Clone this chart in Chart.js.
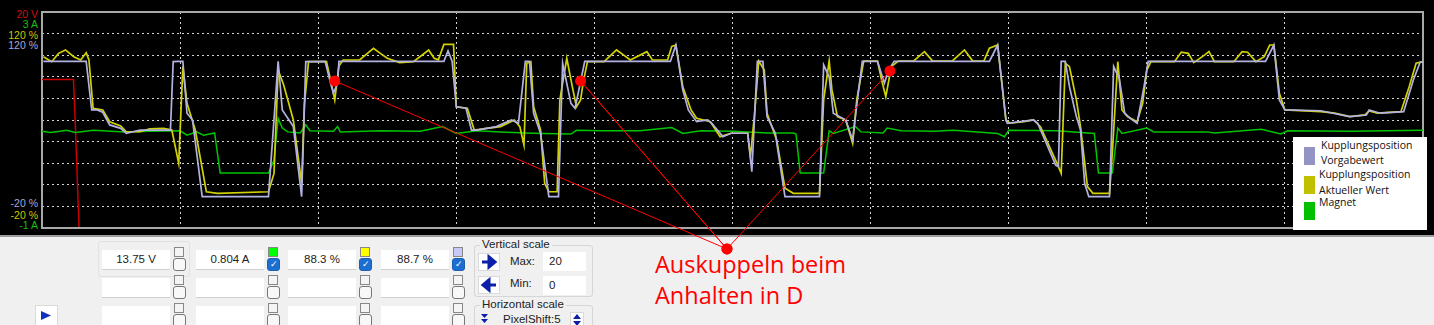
<!DOCTYPE html>
<html>
<head>
<meta charset="utf-8">
<script src="https://cdn.jsdelivr.net/npm/chart.js@4.4.0/dist/chart.umd.min.js"></script>
<style>
  body { margin: 0; width: 1434px; height: 325px; overflow: hidden; background: #f0f0f0; position: relative; font-family: "Liberation Sans", Arial, sans-serif; }
  #scope { position: absolute; left: 0; top: 0; width: 1434px; height: 235px; background: #000; border-bottom: 2px solid #9a9a9a; }
  #chart { position: absolute; left: 0; top: 0; z-index: 5; pointer-events: none; }
  .axl { position: absolute; right: 1396px; font: 10.5px "Liberation Sans", Arial, sans-serif; line-height: 10px; white-space: nowrap; }
  #legend { position: absolute; left: 1293px; top: 137px; width: 134px; height: 93px; background: #fff; z-index: 6; font: 10.5px "Open Sans", sans-serif; color: #111; }
  #legend .sw { position: absolute; left: 11px; width: 11px; height: 18px; }
  #legend .tx { position: absolute; white-space: nowrap; line-height: 12px; }
  .box { position: absolute; width: 68px; height: 19px; background: #fff; border-bottom: 1px solid #d0d0d0; font-size: 11.5px; line-height: 19px; text-align: center; color: #222; }
  .sq { position: absolute; width: 8px; height: 8px; border: 1px solid #888; background: #f4f4f4; }
  .cb { position: absolute; width: 11px; height: 11px; border: 1px solid #777; border-radius: 3px; background: #f8f8f8; }
  .cb.on { background: #1c6fd0; border-color: #1c5fb0; color: #fff; font-size: 9px; line-height: 11px; text-align: center; }
  .pl { position: absolute; font-size: 11.5px; color: #222; white-space: nowrap; }
  .grp { position: absolute; border: 1px solid #d6d6d6; border-radius: 3px; }
  .inp { position: absolute; width: 43px; height: 19px; background: #fff; font-size: 11.5px; line-height: 19px; padding-left: 6px; box-sizing: border-box; color: #222; }
  .btn { position: absolute; width: 22px; height: 18px; background: #fff; border: 1px solid #dadada; box-sizing: border-box; }
  #note { position: absolute; left: 655px; top: 249px; z-index: 4; color: #ff0000; font: 23.5px "Open Sans", sans-serif; line-height: 30.7px; white-space: nowrap; }
</style>
</head>
<body>
<div id="scope"></div>
<canvas id="chart" width="1434" height="325"></canvas>

<div class="axl" style="top:9px;color:#d01010">20 V</div>
<div class="axl" style="top:19px;color:#10c010">3 A</div>
<div class="axl" style="top:30px;color:#c8c800">120 %</div>
<div class="axl" style="top:40px;color:#a8a8d8">120 %</div>
<div class="axl" style="top:198px;color:#a8a8d8">-20 %</div>
<div class="axl" style="top:210px;color:#c8c800">-20 %</div>
<div class="axl" style="top:220px;color:#10c010">-1 A</div>

<div id="legend">
  <div class="sw" style="top:10px;background:#9494c4"></div>
  <div class="tx" style="left:28px;top:2px">Kupplungsposition</div>
  <div class="tx" style="left:28px;top:17px">Vorgabewert</div>
  <div class="sw" style="top:39px;background:#c0c000"></div>
  <div class="tx" style="left:26px;top:31px">Kupplungsposition</div>
  <div class="tx" style="left:26px;top:47px">Aktueller Wert</div>
  <div class="sw" style="top:65px;background:#00c000"></div>
  <div class="tx" style="left:26px;top:59px">Magnet</div>
</div>

<div id="panel"></div>

<div class="grp" style="left:474px;top:245px;width:117px;height:50px"></div>
<div class="pl" style="left:480px;top:238px;background:#f0f0f0;padding:0 2px">Vertical scale</div>
<div class="btn" style="left:478px;top:253px">
  <svg width="20" height="16"><path d="M3 8 H13 M10 3 L16 8 L10 13 Z" stroke="#0b1fa8" stroke-width="3" fill="#0b1fa8"/></svg>
</div>
<div class="pl" style="left:510px;top:255px">Max:</div>
<div class="inp" style="left:543px;top:252px">20</div>
<div class="btn" style="left:478px;top:276px">
  <svg width="20" height="16"><path d="M17 8 H7 M10 3 L4 8 L10 13 Z" stroke="#0b1fa8" stroke-width="3" fill="#0b1fa8"/></svg>
</div>
<div class="pl" style="left:510px;top:277px">Min:</div>
<div class="inp" style="left:543px;top:276px">0</div>

<div class="grp" style="left:474px;top:305px;width:117px;height:30px"></div>
<div class="pl" style="left:480px;top:298px;background:#f0f0f0;padding:0 2px">Horizontal scale</div>
<svg style="position:absolute;left:480px;top:313px" width="9" height="12"><path d="M1 1 H8 L4.5 5 Z M1 6 H8 L4.5 10 Z" fill="#0b1fa8"/></svg>
<div class="pl" style="left:503px;top:313px">PixelShift:5</div>
<div class="btn" style="left:570px;top:312px;width:14px;height:16px">
  <svg width="12" height="14"><path d="M2 6 H10 L6 1 Z M2 8 H10 L6 13 Z" fill="#0b1fa8"/></svg>
</div>

<div class="btn" style="left:35px;top:305px;width:23px;height:21px">
  <svg width="21" height="19"><path d="M5 5 L15 9.5 L5 14 Z" fill="#1030c0"/></svg>
</div>

<div id="note">Auskuppeln beim<br>Anhalten in D</div>

<script>
// Zeitachse: 0..100 (10 Einheiten pro Rasterteilung)
const timeTicks = [0, 10, 20, 30, 40, 50, 60, 70, 80, 90, 100];
const percentTicks = [-20, -6, 8, 22, 36, 50, 64, 78, 92, 106, 120];

// Kupplungsposition Vorgabewert [t, %]
const vorgabe = [
  [0.1, 88], [3.2, 88], [3.6, 56.5], [4.0, 56.5], [4.4, 55], [4.9, 46.8], [5.7, 44.6], [6.1, 41.4],
  [7.1, 43.5], [9.3, 43.5], [9.5, 87.8], [9.9, 88], [10.2, 88], [10.5, 54.4], [10.9, 50], [11.6, 0.3],
  [16.4, 0.3], [17.1, 88], [17.4, 56.5], [18.2, 45.7], [18.8, 0.3], [19.1, 87.8], [20.5, 88], [20.9, 73.8],
  [21.1, 67.3], [21.4, 73.8], [21.5, 88], [29.1, 88], [29.4, 94.9], [29.7, 88], [30.0, 58.6], [30.7, 57.6],
  [31.1, 43.5], [31.5, 43.5], [32.9, 45.7], [34.0, 50], [34.5, 47.9], [35.0, 88], [35.3, 88], [35.6, 54.4],
  [36.1, 41.4], [36.7, 0.3], [37.4, 0.3], [37.7, 86.8], [38.3, 60.8], [38.6, 57.6], [39.3, 88], [45.5, 88],
  [45.9, 98.6], [46.4, 69.5], [46.8, 56.5], [47.4, 48.9], [48.2, 50], [48.5, 47.9], [49.3, 39.2], [49.9, 41.4],
  [51.1, 41.4], [51.4, 16.5], [51.8, 88], [52.2, 88], [52.5, 52.2], [53.1, 41.4], [53.8, 0.3], [56.3, 0.3],
  [56.6, 85.7], [57.0, 78], [57.3, 54.4], [58.2, 50], [58.7, 37], [59.0, 60], [59.4, 88], [60.5, 88],
  [61.0, 73.8], [61.3, 82.4], [61.7, 88], [68.6, 88], [69.2, 98.6], [69.8, 50], [69.9, 47.9], [71.8, 50],
  [72.1, 47.9], [73.4, 20.8], [73.6, 19.8], [73.8, 88], [74.1, 88], [74.4, 71.6], [74.9, 52.2], [75.2, 43.5],
  [75.5, 9], [75.8, 0.3], [77.3, 0.3], [77.6, 84.6], [78.0, 77], [78.4, 54.4], [78.8, 51], [79.3, 47.9],
  [79.8, 71.6], [80.1, 88], [88.6, 88], [89.2, 98.6], [89.6, 63], [90.0, 56.5], [92.6, 56], [94.7, 52.2],
  [95.9, 53.2], [96.1, 56.5], [96.9, 54.4], [98.6, 55.4], [99.3, 75.9], [99.8, 87.6], [100, 87.6]
];

// Kupplungsposition Aktueller Wert [t, %]
const aktuell = [
  [0.1, 91], [0.7, 87.8], [1.2, 93.2], [1.7, 95.4], [2.3, 91], [2.8, 88.9], [3.2, 93.6], [3.4, 88.9],
  [3.7, 57.6], [4.4, 56.5], [4.9, 48.9], [5.7, 46.1], [6.1, 42.4], [7.1, 42.4], [7.8, 44.2], [8.8, 44.6],
  [9.4, 43.5], [9.9, 21.9], [10.2, 84.6], [10.5, 60.8], [11.1, 43.5], [11.9, 3.5], [12.7, 2.5], [16.4, 3.5],
  [16.8, 15.4], [17.1, 82.4], [17.5, 72.7], [18.2, 50], [18.8, 9], [19.0, 60], [19.3, 87.8], [20.6, 87.8],
  [21.0, 71.6], [21.2, 63], [21.5, 85], [21.8, 88.9], [23.0, 88.9], [24.0, 96.5], [24.5, 93.2], [25.0, 90],
  [25.9, 87.2], [26.9, 87.8], [28.0, 95.4], [28.4, 90], [28.7, 89], [29.1, 99], [29.8, 99], [30.0, 58.6],
  [30.8, 57.6], [31.3, 43.5], [32.2, 44.6], [33.2, 45.7], [34.2, 50], [34.6, 45.7], [34.9, 33.8], [35.1, 86.8],
  [35.4, 87.8], [35.6, 58.6], [36.1, 43.5], [36.4, 9], [36.7, 3.5], [37.3, 3.5], [37.5, 63], [38.0, 90],
  [38.4, 71.6], [38.7, 58.6], [39.0, 63], [39.2, 75], [39.5, 87.8], [40.7, 87.8], [41.6, 95.4], [42.1, 92.2],
  [42.6, 88.9], [43.8, 94.3], [44.2, 88.9], [45.3, 88.9], [45.6, 97.7], [45.9, 98.6], [46.4, 71.6], [47.0, 56.5],
  [47.4, 51.1], [48.4, 48.9], [49.1, 39.2], [49.9, 41.4], [51.1, 41.4], [51.3, 26.3], [51.6, 54.4], [51.9, 88.2],
  [52.3, 82.4], [52.5, 54.4], [53.2, 37], [53.8, 5.8], [54.4, 2.5], [56.3, 2.5], [56.6, 63], [57.0, 88.2],
  [57.2, 69.5], [57.6, 52.2], [58.2, 50], [58.7, 34.9], [59.0, 63], [59.5, 88.2], [60.5, 88.2], [60.8, 75.9],
  [61.1, 65.1], [61.5, 84.6], [62.0, 88.2], [63.1, 88.2], [63.9, 94.3], [64.5, 88.2], [65.9, 88.2], [66.8, 95.4],
  [67.4, 88.2], [68.2, 88.2], [68.6, 96.5], [69.2, 98.6], [69.8, 50], [70.1, 47.9], [71.1, 48.9], [71.8, 50],
  [72.3, 45.7], [73.5, 21.9], [73.8, 15.4], [74.1, 86.8], [74.4, 84.6], [74.9, 63], [75.2, 45.7], [75.7, 6.8],
  [76.1, 2.5], [77.3, 2.5], [77.5, 28.4], [77.9, 87.8], [78.2, 56.5], [78.6, 52.2], [79.3, 48.9], [79.7, 60.8],
  [80.0, 82.4], [80.3, 87.8], [82.0, 87.8], [82.5, 94], [83.0, 93.2], [83.4, 87.2], [84.2, 92.2], [84.5, 94.3],
  [84.9, 87.8], [86.3, 87.8], [86.9, 94.3], [87.3, 93.9], [87.9, 87.8], [88.5, 91], [88.9, 98.6], [89.2, 98.6],
  [89.6, 67.3], [90.0, 56.5], [92.6, 55.4], [93.6, 54.4], [94.7, 52.2], [95.8, 53.3], [96.1, 55.9], [96.7, 54.4],
  [98.4, 55.4], [99.0, 71.6], [99.5, 86.8], [100, 87.8]
];

// Magnet [t, A]
const magnet = [
  [0, 0.79], [0.6, 0.77], [1.3, 0.79], [1.8, 0.81], [2.4, 0.77], [3.7, 0.81], [6.0, 0.78], [7.8, 0.79],
  [10.0, 0.8], [10.5, 0.72], [11.2, 0.78], [11.7, 0.72], [12.5, 0.76], [12.9, 0.02], [16.4, 0.02], [16.8, 0.26],
  [17.1, 1.03], [17.4, 0.85], [17.8, 0.78], [18.7, 0.76], [19.1, 0.91], [19.4, 0.8], [21.1, 0.79], [21.4, 0.88],
  [21.6, 0.78], [24.5, 0.8], [27.4, 0.79], [29.0, 0.88], [30.0, 0.75], [31.5, 0.8], [33.2, 0.78], [35.0, 0.76],
  [36.3, 0.75], [38.3, 0.74], [38.7, 0.81], [40.4, 0.8], [43.3, 0.8], [45.6, 0.86], [46.4, 0.75], [47.7, 0.8],
  [50.1, 0.79], [52.5, 0.76], [54.4, 0.76], [54.6, 0.74], [54.9, 0.02], [56.6, 0.02], [57.0, 0.8], [57.3, 0.75],
  [58.9, 0.88], [59.3, 0.78], [60.9, 0.76], [61.2, 0.85], [62.2, 0.8], [64.6, 0.79], [66.0, 0.81], [69.2, 0.75],
  [69.7, 0.69], [70.0, 0.81], [73.5, 0.8], [76.2, 0.75], [76.5, 0.02], [77.5, 0.02], [77.9, 0.85], [78.2, 0.75],
  [80.0, 0.85], [80.5, 0.78], [84.4, 0.78], [84.9, 0.76], [88.3, 0.83], [89.7, 0.74], [90.2, 0.8], [94.8, 0.79],
  [100, 0.81]
];

// Spannung [t, V]
const spannung = [[0, 13.75], [2.28, 13.75], [2.4, 10], [2.68, 0.1]];

// Markierungen "Auskuppeln beim Anhalten in D" [t, %]
const markierung = [[21.2, 75.3], [49.6, -33.6], [39.0, 75.3], [49.6, -33.6], [61.4, 81.8]];

// Anzeigefelder unten
const readouts = ['13.75 V', '0.804 A', '88.3 %', '88.7 %'];
const readoutColors = [null, '#00ff00', '#ffff00', '#c8c8f8'];

const toXY = arr => arr.map(p => ({ x: p[0], y: p[1] }));

// Bedienfeld unten
const panel = document.getElementById('panel');
const colX = [102, 196, 288, 381];
const rowY = [250, 278, 306];
let html = '<div class="grp" style="left:98px;top:241px;width:90px;height:34px;border-color:#e2e2e2"></div>';
colX.forEach((x, c) => {
  rowY.forEach((y, r) => {
    html += `<div class="box" style="left:${x}px;top:${y}px">${r === 0 ? readouts[c] : ''}</div>`;
    const col = r === 0 && readoutColors[c] ? readoutColors[c] : '#f4f4f4';
    html += `<div class="sq" style="left:${x + 72}px;top:${y - 3}px;background:${col}"></div>`;
    const on = r === 0 && c > 0;
    html += `<div class="cb${on ? ' on' : ''}" style="left:${x + 71}px;top:${y + 8}px">${on ? '&#10003;' : ''}</div>`;
  });
});
panel.innerHTML = html;

const gridStyle = { color: '#d2d2d2', lineWidth: 1, drawTicks: false };

const framePlugin = {
  id: 'frame',
  beforeDatasetsDraw(chart) {
    const { ctx, chartArea: a } = chart;
    ctx.save();
    ctx.strokeStyle = '#a8a8a8';
    ctx.lineWidth = 2;
    ctx.strokeRect(a.left, a.top, a.right - a.left, a.bottom - a.top);
    ctx.restore();
  }
};

// Punkte der Markierung ausserhalb der Zeichenflaeche werden von Chart.js nicht gezeichnet
const outsidePoints = {
  id: 'outsidePoints',
  afterDatasetsDraw(chart) {
    const { ctx, chartArea: a } = chart;
    const meta = chart.getDatasetMeta(0);
    ctx.save();
    ctx.fillStyle = '#ff0000';
    meta.data.forEach(pt => {
      if (pt.y > a.bottom) {
        ctx.beginPath();
        ctx.arc(pt.x, pt.y, 5.5, 0, Math.PI * 2);
        ctx.fill();
      }
    });
    ctx.restore();
  }
};

const ctx = document.getElementById('chart').getContext('2d');
new Chart(ctx, {
  type: 'line',
  data: {
    datasets: [
      {
        label: 'Markierung',
        data: toXY(markierung),
        yAxisID: 'yP',
        borderColor: '#ff0000',
        borderWidth: 1,
        pointStyle: 'circle',
        pointRadius: 5.5,
        pointBackgroundColor: '#ff0000',
        pointBorderColor: '#ff0000',
        pointBorderWidth: 0,
        clip: false
      },
      {
        label: 'Kupplungsposition Vorgabewert',
        data: toXY(vorgabe),
        yAxisID: 'yP',
        borderColor: '#b2b2e2',
        borderWidth: 1.7,
        pointRadius: 0
      },
      {
        label: 'Kupplungsposition Aktueller Wert',
        data: toXY(aktuell),
        yAxisID: 'yP',
        borderColor: '#d2d200',
        borderWidth: 1.7,
        pointRadius: 0
      },
      {
        label: 'Magnet',
        data: toXY(magnet),
        yAxisID: 'yA',
        borderColor: '#00c400',
        borderWidth: 1.5,
        pointRadius: 0
      },
      {
        label: 'Spannung',
        data: toXY(spannung),
        yAxisID: 'yV',
        borderColor: '#c80000',
        borderWidth: 1.5,
        pointRadius: 0
      }
    ]
  },
  options: {
    responsive: false,
    animation: false,
    layout: { padding: { left: 42, top: 12, right: 11, bottom: 97 } },
    elements: { line: { tension: 0 } },
    plugins: { legend: { display: false }, tooltip: { enabled: false } },
    scales: {
      x: {
        type: 'linear', min: 0, max: 100,
        afterBuildTicks: s => { s.ticks = timeTicks.map(v => ({ value: v })); },
        ticks: { display: false },
        grid: gridStyle,
        border: { display: false, dash: [2, 3] }
      },
      yP: {
        position: 'left', min: -20, max: 120,
        afterBuildTicks: s => { s.ticks = percentTicks.map(v => ({ value: v })); },
        ticks: { display: false },
        grid: gridStyle,
        border: { display: false, dash: [2, 3] }
      },
      yA: { display: false, min: -1, max: 3 },
      yV: { display: false, min: 0, max: 20 }
    }
  },
  plugins: [framePlugin, outsidePoints]
});
</script>
</body>
</html>
